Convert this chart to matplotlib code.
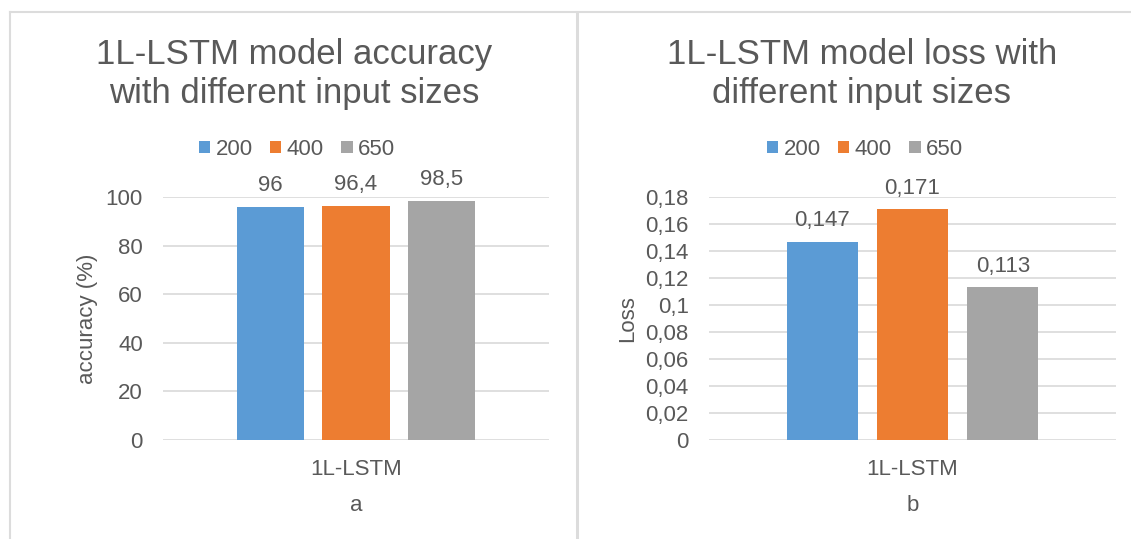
import matplotlib
matplotlib.use("Agg")
import matplotlib.pyplot as plt
from matplotlib.patches import Patch
from matplotlib.lines import Line2D
from matplotlib.ticker import FuncFormatter, MultipleLocator

# ---- data ----
category = ["1L-LSTM"]
input_sizes = ["200", "400", "650"]
accuracy = [96, 96.4, 98.5]
loss = [0.147, 0.171, 0.113]

colors = ["#5B9BD5", "#ED7D31", "#A5A5A5"]
text_color = "#595959"
grid_color = "#D9D9D9"

plt.rcParams["font.family"] = ["Liberation Sans", "DejaVu Sans"]

W, H = 1131, 539
fig = plt.figure(figsize=(W / 100, H / 100), dpi=100)


def fx(px):
    return px / W


def fy(py):
    return 1 - py / H


def comma(v):
    return f"{round(v, 6):g}".replace(".", ",")


# panel frames
frame_kw = dict(color="#DCDCDC", transform=fig.transFigure, zorder=0)
fig.add_artist(Line2D([fx(10), fx(10)], [fy(12), 0], lw=1.5, **frame_kw))
fig.add_artist(Line2D([fx(10), 1], [fy(12), fy(12)], lw=1.5, **frame_kw))
fig.add_artist(Line2D([fx(577), fx(577)], [fy(12), 0], lw=2.2, **frame_kw))

bar_width = 0.175
step = 0.222
fs = 16


def panel(left_px, right_px, values, ylim, ystep, ylabel, title_lines,
          title_cx, legend_cx, sub):
    ax = fig.add_axes([fx(left_px), fy(440), fx(right_px - left_px),
                       (440 - 197) / H])
    for i, (lab, v) in enumerate(zip(input_sizes, values)):
        x = (i - 1) * step
        ax.bar(x, v, width=bar_width, color=colors[i], label=lab, zorder=2)
        ax.annotate(comma(v), (x, v), xytext=(0, 11), textcoords="offset points",
                    ha="center", va="baseline", fontsize=fs, color=text_color)
    ax.set_xlim(-0.5, 0.5)
    ax.set_ylim(*ylim)
    ax.yaxis.set_major_locator(MultipleLocator(ystep))
    ax.yaxis.set_major_formatter(FuncFormatter(lambda v, p: comma(v)))
    ax.set_xticks([0], category)
    ax.grid(axis="y", color=grid_color, lw=1.2, zorder=0)
    for s in ax.spines.values():
        s.set_visible(False)
    ax.tick_params(axis="both", length=0, labelsize=fs, colors=text_color)
    ax.tick_params(axis="y", pad=14.5)
    ax.tick_params(axis="x", pad=14)
    ax.set_ylabel(ylabel, fontsize=fs, color=text_color, labelpad=5.5)
    ax.set_xlabel(sub, fontsize=fs, color=text_color, labelpad=10.5)

    for line, base in zip(title_lines, (63.6, 103)):
        fig.text(fx(title_cx), fy(base), line, ha="center", va="baseline",
                 fontsize=25, color=text_color)

    handles = [Patch(facecolor=c, edgecolor="none") for c in colors]
    ax.legend(handles, input_sizes, loc="center", ncol=3,
              bbox_to_anchor=(fx(legend_cx), fy(149.5)),
              bbox_transform=fig.transFigure, frameon=False,
              fontsize=fs, labelcolor=text_color,
              handlelength=0.5, handleheight=0.5, handletextpad=0.23,
              columnspacing=0.8, borderpad=0, borderaxespad=0)
    return ax


panel(163, 549, accuracy, (0, 100), 20, "accuracy (%)",
      ["1L-LSTM model accuracy", "with different input sizes"], 294, 297, "a")
panel(709, 1116, loss, (0, 0.18), 0.02, "Loss",
      ["1L-LSTM model loss with", "different input sizes"], 862, 865, "b")

fig.savefig("out.png", dpi=100, facecolor="white")
